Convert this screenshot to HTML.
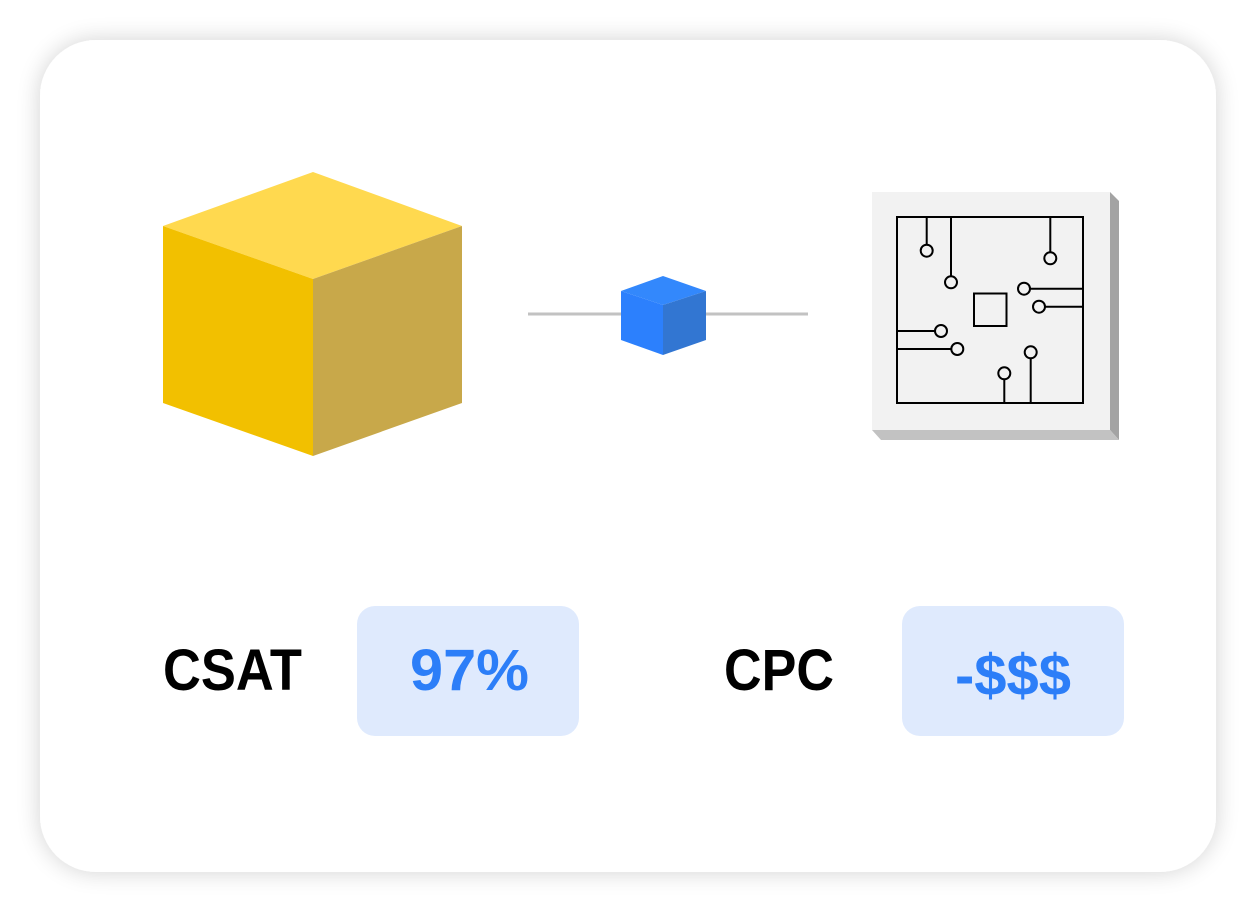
<!DOCTYPE html>
<html><head><style>
html,body{margin:0;padding:0;background:#fff;}
svg{display:block;}
</style></head><body>
<svg width="1256" height="912" viewBox="0 0 1256 912" xmlns="http://www.w3.org/2000/svg">
<defs>
<filter id="sh" x="-10%" y="-10%" width="120%" height="120%">
<feGaussianBlur in="SourceAlpha" stdDeviation="12"/>
<feComponentTransfer><feFuncA type="linear" slope="0.18"/></feComponentTransfer>
<feMerge><feMergeNode/><feMergeNode in="SourceGraphic"/></feMerge>
</filter>
</defs>
<rect width="1256" height="912" fill="#fff"/>
<rect x="40" y="40" width="1176" height="832" rx="56" fill="#fff" filter="url(#sh)"/>
<polygon points="313,172 462,226 313,279 163,226" fill="#ffd94f"/>
<polygon points="163,226 313,279 313,456 163,403" fill="#f2c000"/>
<polygon points="462,226 313,279 313,456 462,403" fill="#c8a84a"/>
<line x1="528" y1="314" x2="808" y2="314" stroke="#c2c2c2" stroke-width="3"/>
<polygon points="663,276 706,291 663,305 621,291" fill="#3388fc"/>
<polygon points="621,291 663,305 663,355 621,340" fill="#2c80fd"/>
<polygon points="706,291 663,305 663,355 706,340" fill="#3276d2"/>
<polygon points="1110,192 1119,201 1119,440 1110,430" fill="#a3a3a3"/>
<polygon points="872,430 1110,430 1119,440 881,440" fill="#c2c2c2"/>
<rect x="872" y="192" width="238" height="238" fill="#f2f2f2"/>
<g stroke="#000" stroke-width="2" fill="none">
<rect x="897" y="217" width="186" height="186"/>
<rect x="974" y="293.5" width="32.5" height="32.5"/>
<line x1="926.7" y1="217" x2="926.7" y2="244.7"/>
<line x1="951" y1="217" x2="951" y2="276"/>
<line x1="1050.3" y1="217" x2="1050.3" y2="252"/>
<line x1="1083" y1="288.7" x2="1030" y2="288.7"/>
<line x1="1083" y1="306.7" x2="1045" y2="306.7"/>
<line x1="897" y1="331" x2="935" y2="331"/>
<line x1="897" y1="349" x2="951" y2="349"/>
<line x1="1004.3" y1="403" x2="1004.3" y2="379.3"/>
<line x1="1030.7" y1="403" x2="1030.7" y2="358.3"/>
<circle cx="926.7" cy="250.7" r="6"/>
<circle cx="951" cy="282.3" r="6"/>
<circle cx="1050.3" cy="258.3" r="6"/>
<circle cx="1024" cy="288.7" r="6"/>
<circle cx="1039" cy="306.7" r="6"/>
<circle cx="941" cy="331" r="6"/>
<circle cx="957.3" cy="349" r="6"/>
<circle cx="1004.3" cy="373.3" r="6"/>
<circle cx="1030.7" cy="352.3" r="6"/>
</g>
<rect x="357" y="606" width="222" height="130" rx="18" fill="#dfeafd"/>
<rect x="902" y="606" width="222" height="130" rx="18" fill="#dfeafd"/>
<g font-family="Liberation Sans, sans-serif" font-size="58" font-weight="bold">
<text x="163" y="690" textLength="139" lengthAdjust="spacingAndGlyphs" fill="#000">CSAT</text>
<text x="724" y="690" textLength="110" lengthAdjust="spacingAndGlyphs" fill="#000">CPC</text>
<text x="410" y="690" textLength="119" lengthAdjust="spacingAndGlyphs" fill="#2c7ef8">97%</text>
<text x="955" y="695" textLength="116" lengthAdjust="spacingAndGlyphs" fill="#2c7ef8">-$$$</text>
</g>
</svg>
</body></html>
